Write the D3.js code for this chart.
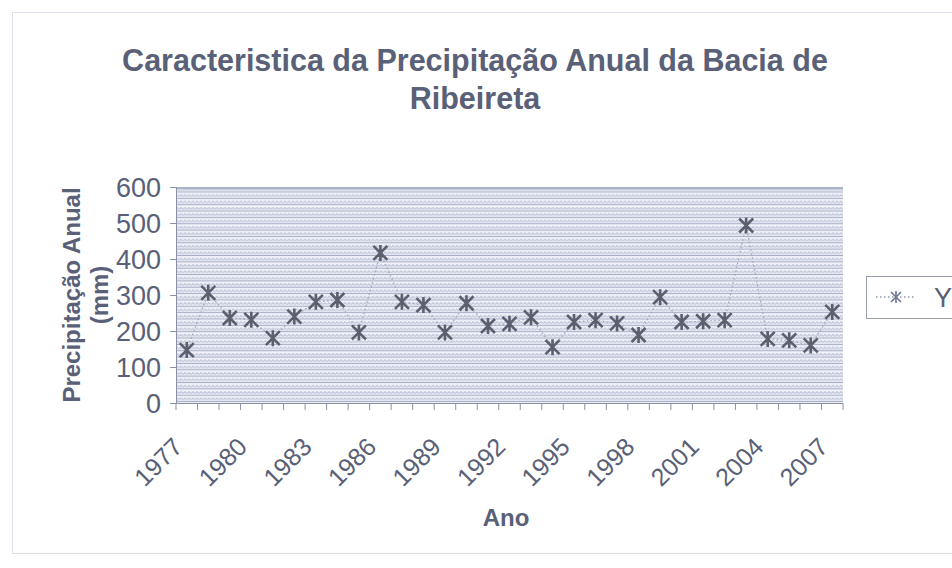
<!DOCTYPE html>
<html>
<head>
<meta charset="utf-8">
<script src="https://cdn.jsdelivr.net/npm/d3@7"></script>
<style>
  html, body { margin: 0; padding: 0; background: #fff; }
  svg { display: block; font-family: "Liberation Sans", Arial, sans-serif; }
</style>
</head>
<body>
<svg id="chart" width="952" height="568"></svg>
<script>
// Annual precipitation, Ribeireta basin (mm)
const years = d3.range(1977, 2008).map(String);
const precipitation = [147, 306, 236, 231, 180, 240, 281, 286, 196, 417,
                       281, 272, 196, 277, 214, 220, 238, 155, 225, 230,
                       221, 189, 294, 225, 227, 230, 493, 178, 174, 160, 253];
const yTicks = [0, 100, 200, 300, 400, 500, 600];
const xLabelYears = ["1977", "1980", "1983", "1986", "1989", "1992", "1995",
                     "1998", "2001", "2004", "2007"];
const titleLines = ["Caracteristica da Precipitação Anual da Bacia de", "Ribeireta"];
const yTitleLines = ["Precipitação Anual", "(mm)"];
const xTitle = "Ano";
const seriesName = "Y";

const textColor = "#596077";
const markColor = "#5b606f";

const svg = d3.select("#chart");
const plot = { left: 176, right: 843, top: 187, bottom: 403 };

// chart frame
svg.append("rect")
  .attr("x", 12.5).attr("y", 12.5).attr("width", 960).attr("height", 541)
  .attr("fill", "none").attr("stroke", "#dde0e8").attr("stroke-width", 1);

// striped plot-area fill
const defs = svg.append("defs");
const pat = defs.append("pattern")
  .attr("id", "stripes").attr("patternUnits", "userSpaceOnUse")
  .attr("x", plot.left).attr("y", plot.top)
  .attr("width", 4).attr("height", 6.35);
pat.append("rect").attr("width", 4).attr("height", 6.35).attr("fill", "#f0f2f8");
pat.append("circle").attr("cx", 1).attr("cy", 2).attr("r", 1.1).attr("fill", "#c2c8dc");
pat.append("circle").attr("cx", 3).attr("cy", 2.6).attr("r", 1.1).attr("fill", "#cbd1e3");
pat.append("rect").attr("y", 4.4).attr("width", 4).attr("height", 1.1).attr("fill", "#a6aec6");

const x = d3.scaleBand().domain(years).range([plot.left, plot.right]);
const y = d3.scaleLinear().domain([0, 600]).range([plot.bottom, plot.top]);
const cx = d => x(d) + x.bandwidth() / 2;

svg.append("rect")
  .attr("x", plot.left).attr("y", plot.top)
  .attr("width", plot.right - plot.left).attr("height", plot.bottom - plot.top)
  .attr("fill", "url(#stripes)");
svg.append("line")
  .attr("x1", plot.left).attr("x2", plot.right)
  .attr("y1", plot.top + 1).attr("y2", plot.top + 1)
  .attr("stroke", "#aab2c8").attr("stroke-width", 2);

// Y axis
const yAxis = svg.append("g")
  .attr("transform", `translate(${plot.left},0)`)
  .call(d3.axisLeft(y).tickValues(yTicks).tickSize(6).tickPadding(9).tickFormat(d3.format("d")));
yAxis.select(".domain").attr("stroke", "#8b92a6");
yAxis.selectAll(".tick line").attr("stroke", "#8b92a6");
yAxis.selectAll("text")
  .attr("fill", textColor).style("font-size", "27px").attr("dy", "0.36em");

// X axis: ticks on category boundaries, labels every third year
const xAxis = svg.append("g");
xAxis.append("line")
  .attr("x1", plot.left).attr("x2", plot.right)
  .attr("y1", plot.bottom + 0.5).attr("y2", plot.bottom + 0.5)
  .attr("stroke", "#8b92a6");
const boundaries = years.map(d => x(d)).concat([plot.right]);
xAxis.selectAll("line.tick").data(boundaries).join("line")
  .attr("class", "tick")
  .attr("x1", d => d).attr("x2", d => d)
  .attr("y1", plot.bottom).attr("y2", plot.bottom + 7)
  .attr("stroke", "#8b92a6");
xAxis.selectAll("text").data(xLabelYears).join("text")
  .attr("transform", d => `translate(${cx(d) - 15},${plot.bottom + 33}) rotate(-45)`)
  .attr("text-anchor", "end")
  .attr("dy", "0.7em")
  .attr("fill", textColor)
  .style("font-size", "25px")
  .text(d => d);

// series line
const line = d3.line().x((d, i) => cx(years[i])).y(d => y(d));
svg.append("path")
  .datum(precipitation)
  .attr("d", line)
  .attr("fill", "none")
  .attr("stroke", "#a0a6b6")
  .attr("stroke-width", 1.3)
  .attr("stroke-dasharray", "1.5,2.5");

// star markers
const star = "M-7,-7L7,7M-7,7L7,-7M0,-8L0,8";
svg.append("g").selectAll("path").data(precipitation).join("path")
  .attr("transform", (d, i) => `translate(${cx(years[i])},${y(d)})`)
  .attr("d", star)
  .attr("stroke", markColor)
  .attr("stroke-width", 2.6)
  .attr("fill", "none");

// titles
svg.append("text")
  .attr("x", 475).attr("y", 71)
  .attr("text-anchor", "middle")
  .attr("fill", textColor).attr("font-weight", "bold").style("font-size", "30.5px")
  .selectAll("tspan").data(titleLines).join("tspan")
  .attr("x", 475).attr("dy", (d, i) => i === 0 ? 0 : 38)
  .text(d => d);

svg.append("text")
  .attr("transform", `translate(80,${(plot.top + plot.bottom) / 2}) rotate(-90)`)
  .attr("text-anchor", "middle")
  .attr("fill", textColor).attr("font-weight", "bold").style("font-size", "24px")
  .selectAll("tspan").data(yTitleLines).join("tspan")
  .attr("x", 0).attr("dy", (d, i) => i === 0 ? 0 : 28)
  .text(d => d);

svg.append("text")
  .attr("x", 506).attr("y", 526)
  .attr("text-anchor", "middle")
  .attr("fill", textColor).attr("font-weight", "bold").style("font-size", "24px")
  .text(xTitle);

// legend
const legend = svg.append("g").attr("transform", "translate(866,276)");
legend.append("rect")
  .attr("x", 0.5).attr("y", 0.5).attr("width", 100).attr("height", 42)
  .attr("fill", "#fff").attr("stroke", "#9aa0b0");
legend.append("line")
  .attr("x1", 10).attr("x2", 50).attr("y1", 21).attr("y2", 21)
  .attr("stroke", "#9197a8").attr("stroke-width", 1.3).attr("stroke-dasharray", "1.5,2.5");
legend.append("path")
  .attr("transform", "translate(30,21)")
  .attr("d", "M-5,-5L5,5M-5,5L5,-5M0,-6L0,6")
  .attr("stroke", "#6f7a98").attr("stroke-width", 1.6).attr("fill", "none");
legend.append("text")
  .attr("x", 68).attr("y", 31)
  .attr("fill", textColor).style("font-size", "27px")
  .text(seriesName);
</script>
</body>
</html>
